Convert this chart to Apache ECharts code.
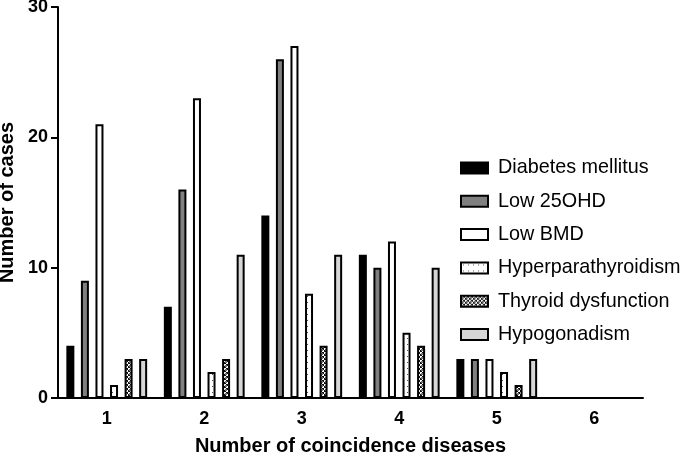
<!DOCTYPE html>
<html><head><meta charset="utf-8">
<script src="https://cdn.jsdelivr.net/npm/echarts@6/dist/echarts.min.js"></script>
<style>html,body{margin:0;padding:0;background:#fff}#c{width:685px;height:454px}</style>
</head><body><div id="c"></div>
<script>
var categories = ['1','2','3','4','5','6'];
var seriesNames = ['Diabetes mellitus','Low 25OHD','Low BMD','Hyperparathyroidism','Thyroid dysfunction','Hypogonadism'];
var diabetes = [4, 7, 14, 11, 3, 0];
var low25OHD = [9, 16, 26, 10, 3, 0];
var lowBMD = [21, 23, 27, 12, 3, 0];
var hyperpara = [1, 2, 8, 5, 2, 0];
var thyroid = [3, 3, 4, 4, 1, 0];
var hypogonadism = [3, 11, 11, 10, 3, 0];
var yTicks = [0, 10, 20, 30];

function dotPattern(){
  var c = document.createElement('canvas'); c.width = 5; c.height = 6;
  var x = c.getContext('2d'); x.fillStyle = '#fff'; x.fillRect(0,0,5,6);
  x.fillStyle = '#555'; x.fillRect(2,2,1,1);
  return c;
}
function checkPattern(){
  var c = document.createElement('canvas'); c.width = 4; c.height = 4;
  var x = c.getContext('2d'); x.fillStyle = '#111'; x.fillRect(0,0,4,4);
  x.fillStyle = '#fff'; x.fillRect(0,0,2,2); x.fillRect(2,2,2,2);
  x.fillStyle = '#777'; x.fillRect(1,1,2,2);
  return c;
}
var fills = ['#000000', '#808080', '#ffffff',
  {image: dotPattern(), repeat: 'repeat'},
  {image: checkPattern(), repeat: 'repeat'},
  '#d6d6d6'];
var datas = [diabetes, low25OHD, lowBMD, hyperpara, thyroid, hypogonadism];

var series = seriesNames.map(function(n, i){
  return {
    name: n, type: 'bar', data: datas[i],
    barWidth: 8, barGap: '82%',
    itemStyle: {color: fills[i], borderColor: '#000', borderWidth: 2},
    emphasis: {disabled: true}
  };
});

var FF = 'Liberation Sans, Arial, sans-serif';
var chart = echarts.init(document.getElementById('c'), null, {renderer: 'canvas'});
chart.setOption({
  animation: false,
  textStyle: {fontFamily: FF},
  grid: {left: 58, right: 42, top: 7, bottom: 56, containLabel: false, outerBoundsMode: 'none'},
  legend: {
    orient: 'vertical', left: 455, top: 153, icon: 'rect',
    itemWidth: 27, itemHeight: 11, itemGap: 13.3,
    itemStyle: {borderWidth: 2, borderColor: '#000'},
    textStyle: {fontSize: 19.8, lineHeight: 20, color: '#000', fontFamily: FF, padding: [0, 0, 0, 5]},
    data: seriesNames
  },
  xAxis: {
    type: 'category', data: categories,
    name: 'Number of coincidence diseases', nameLocation: 'middle', nameGap: 38,
    nameTextStyle: {fontSize: 20, fontWeight: 'bold', color: '#000', fontFamily: FF},
    axisLine: {lineStyle: {color: '#000', width: 2}},
    axisTick: {alignWithLabel: true, length: 6, lineStyle: {color: '#000', width: 2}},
    axisLabel: {fontSize: 18, fontWeight: 'bold', color: '#000', margin: 12, fontFamily: FF}
  },
  yAxis: {
    type: 'value', min: 0, max: 30, interval: 10,
    name: 'Number of cases', nameLocation: 'middle', nameGap: 38,
    nameTextStyle: {fontSize: 20, fontWeight: 'bold', color: '#000', fontFamily: FF},
    axisLine: {show: true, lineStyle: {color: '#000', width: 2}},
    axisTick: {show: true, length: 7, lineStyle: {color: '#000', width: 2}},
    axisLabel: {fontSize: 18, fontWeight: 'bold', color: '#000', margin: 10, fontFamily: FF},
    splitLine: {show: false}
  },
  series: series
});
</script></body></html>
